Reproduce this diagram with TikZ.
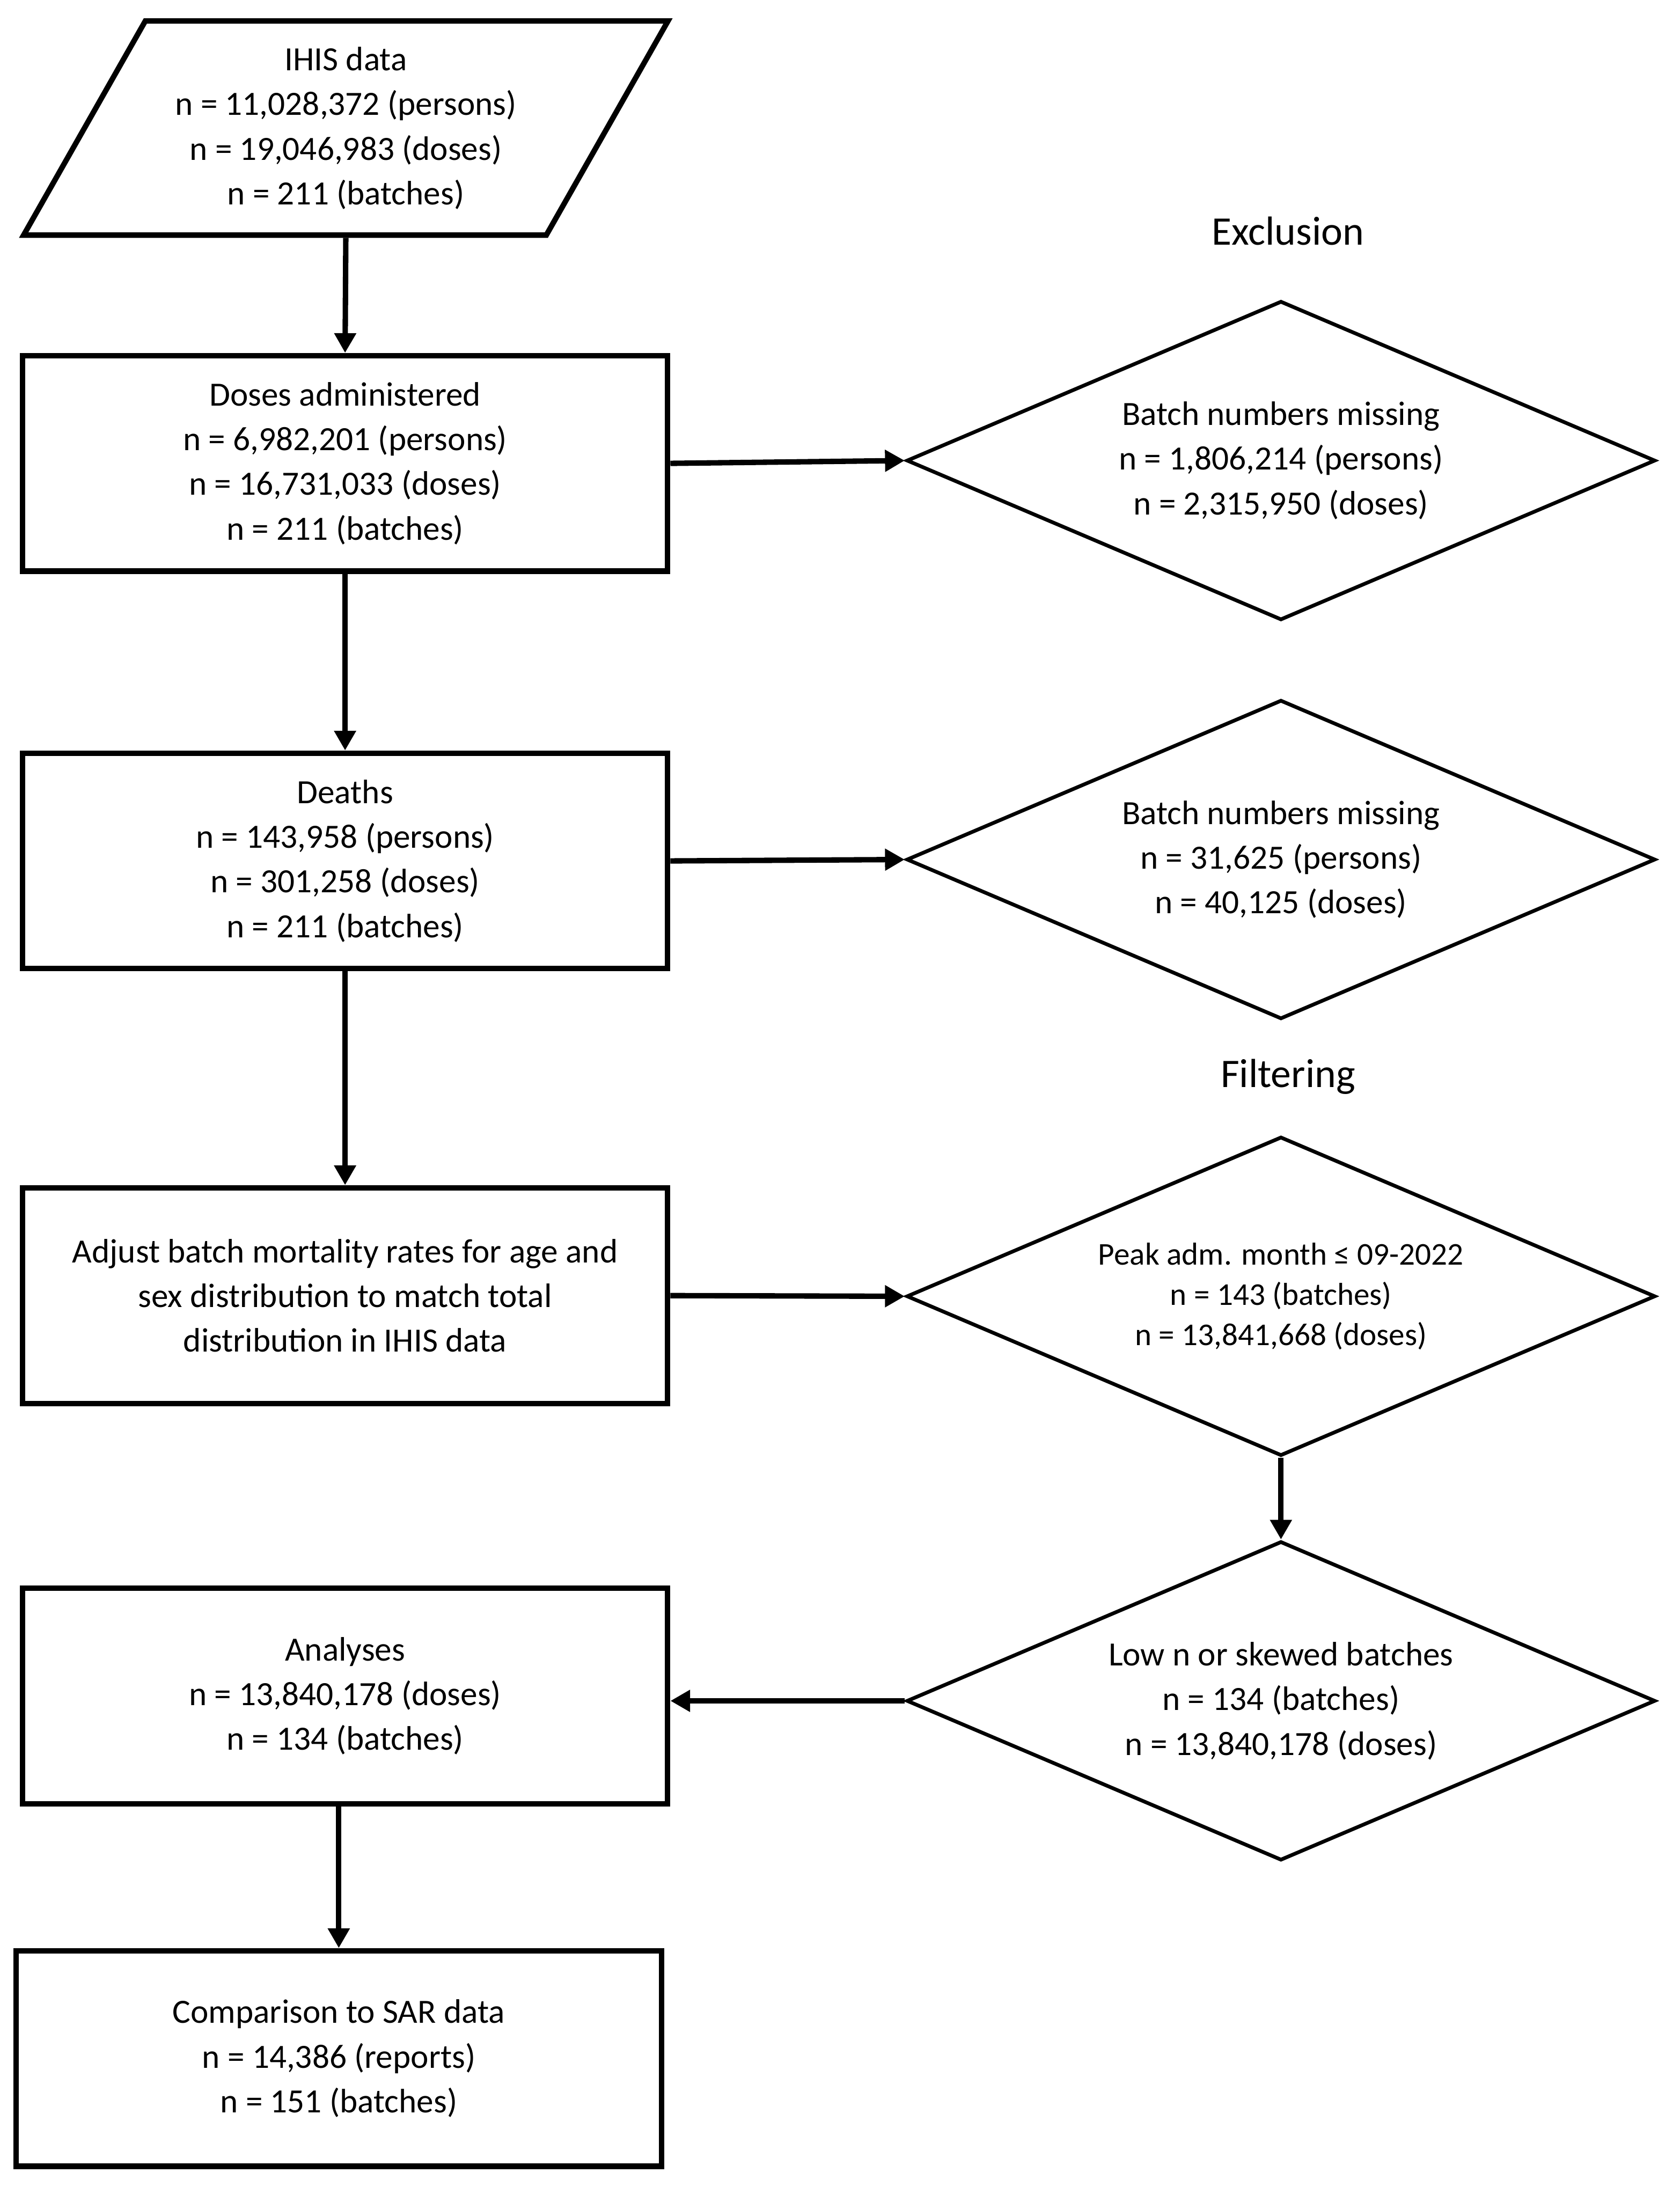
\documentclass[tikz,border=0pt]{standalone}
\usepackage{fontspec}
\setmainfont{Carlito}
\usetikzlibrary{arrows.meta,shapes.geometric}
\tikzset{box/.style={draw=black,line width=2.2pt,align=center,minimum width=9.22cm,minimum height=3.08cm,inner sep=4pt,font=\fontsize{13.8}{18.2}\selectfont},dec/.style={draw=black,line width=1.5pt,diamond,aspect=2.35,minimum width=10.7cm,minimum height=4.56cm,inner sep=0pt,align=center,font=\fontsize{13.8}{18.2}\selectfont},arrow/.style={-{Triangle[length=8pt,width=8.5pt]},line width=2.2pt},head/.style={font=\fontsize{16.5}{20}\selectfont}}

\begin{document}
\begin{tikzpicture}[x=0.02cm,y=-0.02cm]
\useasboundingbox (0,0) rectangle (1200,1568);
\node[box,trapezium,trapezium left angle=59,trapezium right angle=121,trapezium stretches=true,minimum width=9.24cm,minimum height=3.06cm] (ihis) at (247,91.5) {IHIS data\\n = 11,028,372 (persons)\\n = 19,046,983 (doses)\\n = 211 (batches)};
\node[box] (doses) at (246.5,331) {Doses administered\\n = 6,982,201 (persons)\\n = 16,731,033 (doses)\\n = 211 (batches)};
\node[box] (deaths) at (246.5,615) {Deaths\\n = 143,958 (persons)\\n = 301,258 (doses)\\n = 211 (batches)};
\node[box] (adjust) at (246.5,925.5) {Adjust batch mortality rates for age and\\sex distribution to match total\\distribution in IHIS data};
\node[box] (analyses) at (246.5,1211.5) {Analyses\\n = 13,840,178 (doses)\\n = 134 (batches)};
\node[box] (sar) at (242,1470.5) {Comparison to SAR data\\n = 14,386 (reports)\\n = 151 (batches)};
\node[head] (excl) at (920,165) {Exclusion};
\node[dec] (miss1) at (915,329) {Batch numbers missing\\n = 1,806,214 (persons)\\n = 2,315,950 (doses)};
\node[dec] (miss2) at (915,614) {Batch numbers missing\\n = 31,625 (persons)\\n = 40,125 (doses)};
\node[head] (filt) at (920,769) {Filtering};
\node[dec,font=\fontsize{12.9}{16.4}\selectfont] (peak) at (915,926) {Peak adm. month ≤ 09-2022\\n = 143 (batches)\\n = 13,841,668 (doses)};
\node[dec] (skew) at (915,1215) {Low n or skewed batches\\n = 134 (batches)\\n = 13,840,178 (doses)};
\foreach \a/\b in {ihis/doses,doses/deaths,deaths/adjust,peak/skew}{\draw[arrow] (\a.south)--(\b.north);}
\foreach \a/\b in {doses/miss1,deaths/miss2,adjust/peak}{\draw[arrow] (\a.east)--(\b.west);}
\draw[arrow] (skew.west)--(skew.west -| analyses.east);
\draw[arrow] (sar.north |- analyses.south)--(sar.north);
\end{tikzpicture}
\end{document}
